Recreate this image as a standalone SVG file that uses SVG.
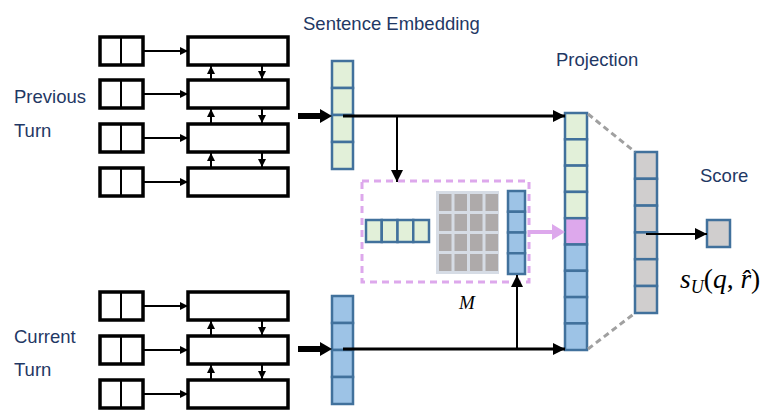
<svg xmlns="http://www.w3.org/2000/svg" width="763" height="410" viewBox="0 0 763 410">
<defs>
<style>
.sb{fill:#fff;stroke:#000;stroke-width:3.5}
.bb{fill:#fff;stroke:#000;stroke-width:3.5}
.ln{stroke:#000;stroke-width:2;fill:none}
.lm{stroke:#000;stroke-width:3;fill:none}
.g{fill:#E2F0D9;stroke:#41719C;stroke-width:2.5}
.b{fill:#9DC3E6;stroke:#41719C;stroke-width:2.5}
.p{fill:#DDA8EC;stroke:#41719C;stroke-width:2.5}
.gr{fill:#D0CECE;stroke:#41719C;stroke-width:2.5}
.mc{fill:#AEAAAA}
.lbl{font-family:"Liberation Sans",Arial,sans-serif;font-size:18.5px;fill:#1F3864}
.math{font-family:"Liberation Serif","DejaVu Serif",serif;fill:#000}
</style>
<marker id="as" markerUnits="userSpaceOnUse" markerWidth="8" markerHeight="8" refX="8" refY="4" orient="auto"><path d="M0,0 L8,4 L0,8 z" fill="#000"/></marker>
<marker id="am" markerUnits="userSpaceOnUse" markerWidth="12" markerHeight="12" refX="12" refY="6" orient="auto"><path d="M0,0 L12,6 L0,12 z" fill="#000"/></marker>
</defs>

<g id="prev-label"><text class="lbl" x="14" y="103">Previous</text><text class="lbl" x="14" y="137">Turn</text></g>
<g id="curr-label"><text class="lbl" x="14" y="343">Current</text><text class="lbl" x="14" y="376">Turn</text></g>
<g id="sent-emb-label"><text class="lbl" x="303" y="30">Sentence Embedding</text></g>
<g id="proj-label"><text class="lbl" x="556" y="66">Projection</text></g>
<g id="score-label"><text class="lbl" x="700" y="182">Score</text></g>

<g id="prev-inputs">
<rect class="sb" x="100" y="37" width="43" height="28"/><line class="ln" x1="121" y1="37" x2="121" y2="65"/>
<rect class="sb" x="100" y="80" width="43" height="28"/><line class="ln" x1="121" y1="80" x2="121" y2="108"/>
<rect class="sb" x="100" y="124" width="43" height="28"/><line class="ln" x1="121" y1="124" x2="121" y2="152"/>
<rect class="sb" x="100" y="168" width="43" height="28"/><line class="ln" x1="121" y1="168" x2="121" y2="196"/>
</g>
<g id="prev-rnn">
<rect class="bb" x="188" y="37" width="100" height="28"/>
<rect class="bb" x="188" y="80" width="100" height="28"/>
<rect class="bb" x="188" y="124" width="100" height="28"/>
<rect class="bb" x="188" y="168" width="100" height="28"/>
</g>
<g id="curr-inputs">
<rect class="sb" x="100" y="292" width="43" height="28"/><line class="ln" x1="121" y1="292" x2="121" y2="320"/>
<rect class="sb" x="100" y="336" width="43" height="28"/><line class="ln" x1="121" y1="336" x2="121" y2="364"/>
<rect class="sb" x="100" y="380" width="43" height="28"/><line class="ln" x1="121" y1="380" x2="121" y2="408"/>
</g>
<g id="curr-rnn">
<rect class="bb" x="188" y="292" width="100" height="28"/>
<rect class="bb" x="188" y="336" width="100" height="28"/>
<rect class="bb" x="188" y="380" width="100" height="28"/>
</g>

<g id="prev-emb">
<rect class="g" x="332" y="61" width="21" height="27"/>
<rect class="g" x="332" y="88" width="21" height="27"/>
<rect class="g" x="332" y="115" width="21" height="27"/>
<rect class="g" x="332" y="142" width="21" height="27"/>
</g>
<g id="curr-emb">
<rect class="b" x="332" y="296" width="21" height="27"/>
<rect class="b" x="332" y="323" width="21" height="27"/>
<rect class="b" x="332" y="350" width="21" height="27"/>
<rect class="b" x="332" y="377" width="21" height="27"/>
</g>

<g id="attention-box">
<rect x="362" y="181" width="167" height="101" fill="none" stroke="#DDA8EC" stroke-width="3" stroke-dasharray="7 5"/>
<g id="green-vec">
<rect class="g" x="366" y="220" width="15.75" height="22"/>
<rect class="g" x="381.75" y="220" width="15.75" height="22"/>
<rect class="g" x="397.5" y="220" width="15.75" height="22"/>
<rect class="g" x="413.25" y="220" width="15.75" height="22"/>
</g>
<g id="matrix-M">
<rect x="436" y="191" width="63" height="83" fill="#D6DCE5"/>
<rect class="mc" x="439" y="194" width="12.5" height="17"/><rect class="mc" x="454.5" y="194" width="12.5" height="17"/><rect class="mc" x="470" y="194" width="12.5" height="17"/><rect class="mc" x="485.5" y="194" width="12.5" height="17"/>
<rect class="mc" x="439" y="214" width="12.5" height="17"/><rect class="mc" x="454.5" y="214" width="12.5" height="17"/><rect class="mc" x="470" y="214" width="12.5" height="17"/><rect class="mc" x="485.5" y="214" width="12.5" height="17"/>
<rect class="mc" x="439" y="234" width="12.5" height="17"/><rect class="mc" x="454.5" y="234" width="12.5" height="17"/><rect class="mc" x="470" y="234" width="12.5" height="17"/><rect class="mc" x="485.5" y="234" width="12.5" height="17"/>
<rect class="mc" x="439" y="254" width="12.5" height="17"/><rect class="mc" x="454.5" y="254" width="12.5" height="17"/><rect class="mc" x="470" y="254" width="12.5" height="17"/><rect class="mc" x="485.5" y="254" width="12.5" height="17"/>
</g>
<g id="blue-vec">
<rect class="b" x="508" y="191" width="17" height="20.75"/>
<rect class="b" x="508" y="211.75" width="17" height="20.75"/>
<rect class="b" x="508" y="232.5" width="17" height="20.75"/>
<rect class="b" x="508" y="253.25" width="17" height="20.75"/>
</g>
<text class="math" x="467" y="309" font-size="19" font-style="italic" text-anchor="middle">M</text>
</g>

<g id="projection">
<rect class="g" x="565" y="113" width="22" height="26.3"/>
<rect class="g" x="565" y="139.3" width="22" height="26.3"/>
<rect class="g" x="565" y="165.6" width="22" height="26.3"/>
<rect class="g" x="565" y="191.9" width="22" height="26.3"/>
<rect class="p" x="565" y="218.2" width="22" height="26.3"/>
<rect class="b" x="565" y="244.5" width="22" height="26.3"/>
<rect class="b" x="565" y="270.8" width="22" height="26.3"/>
<rect class="b" x="565" y="297.1" width="22" height="26.3"/>
<rect class="b" x="565" y="323.4" width="22" height="26.6"/>
</g>
<g id="hidden">
<rect class="gr" x="635" y="152" width="22" height="26.8"/>
<rect class="gr" x="635" y="178.8" width="22" height="26.8"/>
<rect class="gr" x="635" y="205.6" width="22" height="26.8"/>
<rect class="gr" x="635" y="232.4" width="22" height="26.8"/>
<rect class="gr" x="635" y="259.2" width="22" height="26.8"/>
<rect class="gr" x="635" y="286" width="22" height="27"/>
</g>
<g id="score">
<rect class="gr" x="707" y="220" width="23" height="27"/>
<text class="math" x="680" y="288" font-size="27.5"><tspan font-style="italic">s</tspan><tspan font-style="italic" font-size="18" dy="5">U</tspan><tspan dy="-5">(</tspan><tspan font-style="italic">q</tspan>, <tspan font-style="italic">r̂</tspan>)</text>
</g>

<g id="connectors">
<line class="ln" x1="143" y1="51" x2="188" y2="51" marker-end="url(#as)"/>
<line class="ln" x1="143" y1="94" x2="188" y2="94" marker-end="url(#as)"/>
<line class="ln" x1="143" y1="138" x2="188" y2="138" marker-end="url(#as)"/>
<line class="ln" x1="143" y1="182" x2="188" y2="182" marker-end="url(#as)"/>
<line class="ln" x1="143" y1="306" x2="188" y2="306" marker-end="url(#as)"/>
<line class="ln" x1="143" y1="350" x2="188" y2="350" marker-end="url(#as)"/>
<line class="ln" x1="143" y1="394" x2="188" y2="394" marker-end="url(#as)"/>

<line class="ln" x1="211" y1="80" x2="211" y2="66" marker-end="url(#as)"/>
<line class="ln" x1="262" y1="65" x2="262" y2="79" marker-end="url(#as)"/>
<line class="ln" x1="211" y1="124" x2="211" y2="109" marker-end="url(#as)"/>
<line class="ln" x1="262" y1="108" x2="262" y2="123" marker-end="url(#as)"/>
<line class="ln" x1="211" y1="168" x2="211" y2="153" marker-end="url(#as)"/>
<line class="ln" x1="262" y1="152" x2="262" y2="167" marker-end="url(#as)"/>
<line class="ln" x1="211" y1="336" x2="211" y2="321" marker-end="url(#as)"/>
<line class="ln" x1="262" y1="320" x2="262" y2="335" marker-end="url(#as)"/>
<line class="ln" x1="211" y1="380" x2="211" y2="365" marker-end="url(#as)"/>
<line class="ln" x1="262" y1="364" x2="262" y2="379" marker-end="url(#as)"/>

<line x1="298" y1="116" x2="322" y2="116" stroke="#000" stroke-width="6"/>
<polygon points="320,109 332,116 320,123" fill="#000"/>
<line x1="298" y1="349" x2="322" y2="349" stroke="#000" stroke-width="6"/>
<polygon points="320,342 332,349 320,356" fill="#000"/>

<line class="lm" x1="343" y1="116" x2="565" y2="116" marker-end="url(#am)"/>
<line class="ln" x1="397" y1="116" x2="397" y2="182" marker-end="url(#am)"/>
<line class="lm" x1="343" y1="349" x2="565" y2="349" marker-end="url(#am)"/>
<line class="ln" x1="517" y1="349" x2="517" y2="275" marker-end="url(#am)"/>

<line x1="529" y1="232" x2="554" y2="232" stroke="#DDA8EC" stroke-width="4"/>
<polygon points="552,224 565,232 552,240" fill="#DDA8EC"/>

<line x1="588" y1="114" x2="635" y2="152" stroke="#A0A0A0" stroke-width="3" stroke-dasharray="6 4"/>
<line x1="588" y1="349" x2="635" y2="313" stroke="#A0A0A0" stroke-width="3" stroke-dasharray="6 4"/>

<line class="ln" x1="646" y1="234" x2="707" y2="234" marker-end="url(#am)"/>
</g>
</svg>
